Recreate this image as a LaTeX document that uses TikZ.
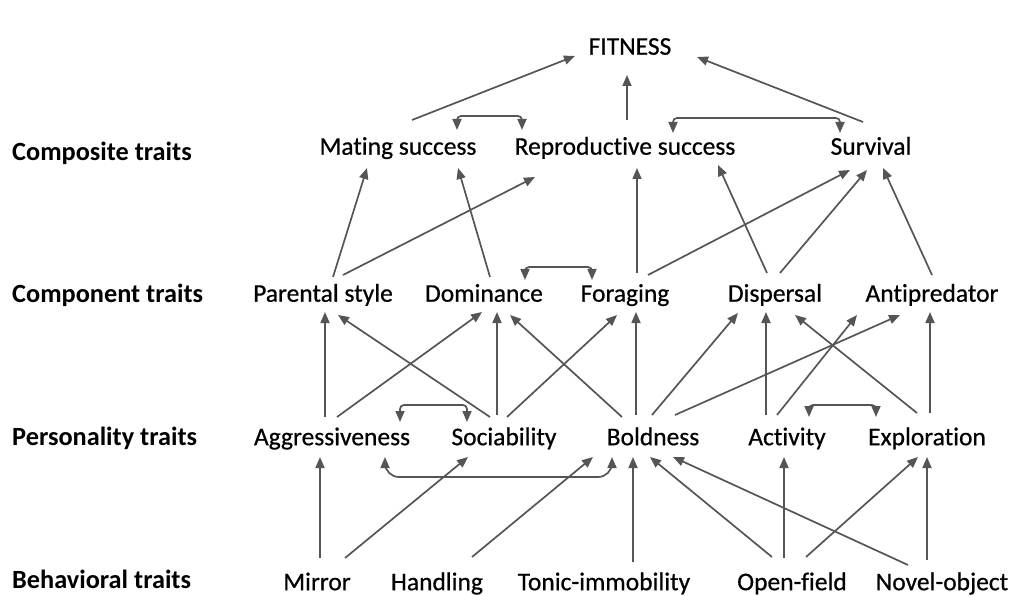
\documentclass[tikz,border=0pt]{standalone}
\usepackage{fontspec}
\setmainfont{Carlito}[Ligatures=NoCommon]
\newfontfamily\nodefont{Carlito}[Ligatures=NoCommon,FakeBold=0.6]
\usetikzlibrary{arrows.meta,calc}
\definecolor{lc}{RGB}{85,85,85}
\begin{document}
\begin{tikzpicture}[x=1pt,y=-1pt,
  lab/.style={font=\nodefont\fontsize{25.5}{30}\selectfont, inner sep=0pt, text height=16.4pt, text depth=0pt},
  side/.style={inner sep=0pt, text height=16.8pt, text depth=0pt, font=\fontsize{26.3}{30}\selectfont\bfseries, anchor=west},
  arr/.style={draw=lc, line width=1.7pt, -{Triangle[length=11pt,width=9pt]}},
  dbl/.style={draw=lc, line width=1.7pt, {Triangle[length=11pt,width=9pt]}-{Triangle[length=11pt,width=9pt]}, rounded corners=4pt}]
\useasboundingbox (0,0) rectangle (1015,596);
% side labels
\node[side] (lcomp) at (12,152.5) {Composite traits};
\node[side] (lcompo) at (12,294) {Component traits};
\node[side] (lpers) at (12,437) {Personality traits};
\node[side] (lbeh) at (12,580.5) {Behavioral traits};
% nodes
\node[lab] (fit) at (630,46.5) {FITNESS};
\node[lab] (ms) at (398,146.5) {Mating success};
\node[lab] (rs) at (625,146.5) {Reproductive success};
\node[lab] (sv) at (871,146.5) {Survival};
\node[lab] (ps) at (323,293.5) {Parental style};
\node[lab] (dom) at (484,293.5) {Dominance};
\node[lab] (fo) at (625,293.5) {Foraging};
\node[lab] (dis) at (775,293.5) {Dispersal};
\node[lab] (ap) at (932,293.5) {Antipredator};
\node[lab] (ag) at (332,437) {Aggressiveness};
\node[lab] (so) at (504,437) {Sociability};
\node[lab] (bo) at (653,437) {Boldness};
\node[lab] (ac) at (787,437) {Activity};
\node[lab] (ex) at (927,437) {Exploration};
\node[lab] (mi) at (317,582) {Mirror};
\node[lab] (ha) at (437,582) {Handling};
\node[lab] (ti) at (604,582) {Tonic-immobility};
\node[lab] (of) at (792,582) {Open-field};
\node[lab] (no) at (942,582) {Novel-object};
% composite -> fitness
\draw[arr] ($(ms)+(14,-26.5)$) -- ($(fit)+(-55,9.5)$);
\draw[arr] ($(rs)+(2,-26.5)$) -- ($(fit)+(-3,28.5)$);
\draw[arr] ($(sv)+(-8,-24.5)$) -- ($(fit)+(67,10.5)$);
\draw[dbl] ($(ms)+(59,-16.5)$) -- ($(ms)+(59,-30.5)$) -| ($(rs)+(-103,-16.5)$);
\draw[dbl] ($(rs)+(48,-13.5)$) -- ($(rs)+(48,-28.5)$) -| ($(sv)+(-31,-13.5)$);
% component -> composite
\draw[arr] ($(ps)+(10,-16.5)$) -- ($(ms)+(-31,21.5)$);
\draw[arr] ($(ps)+(20,-18.5)$) -- ($(rs)+(-90,30.5)$);
\draw[arr] ($(dom)+(6,-16.5)$) -- ($(ms)+(60,21.5)$);
\draw[arr] ($(fo)+(12,-20.5)$) -- ($(rs)+(12,21.5)$);
\draw[arr] ($(fo)+(23,-18.5)$) -- ($(sv)+(-21,23.5)$);
\draw[arr] ($(dis)+(-8,-20.5)$) -- ($(rs)+(93,18.5)$);
\draw[arr] ($(dis)+(5,-20.5)$) -- ($(sv)+(-4,23.5)$);
\draw[arr] ($(ap)+(0,-18.5)$) -- ($(sv)+(12,21.5)$);
\draw[dbl] ($(dom)+(41,-13.5)$) -- ($(dom)+(41,-26.5)$) -| ($(fo)+(-33,-13.5)$);
% personality -> component
\draw[arr] ($(ag)+(-7,-20)$) -- ($(ps)+(2,18.5)$);
\draw[arr] ($(ag)+(5,-20)$) -- ($(dom)+(-2,18.5)$);
\draw[arr] ($(so)+(-14,-20)$) -- ($(ps)+(15,21.5)$);
\draw[arr] ($(so)+(-7,-22)$) -- ($(dom)+(13,18.5)$);
\draw[arr] ($(so)+(3,-20)$) -- ($(fo)+(-8,21.5)$);
\draw[arr] ($(bo)+(-31,-20)$) -- ($(dom)+(26,21.5)$);
\draw[arr] ($(bo)+(-17,-22)$) -- ($(fo)+(11,18.5)$);
\draw[arr] ($(bo)+(-1,-22)$) -- ($(dis)+(-37,19.5)$);
\draw[arr] ($(bo)+(22,-22)$) -- ($(ap)+(-32,21.5)$);
\draw[arr] ($(ac)+(-21,-22)$) -- ($(dis)+(-9,18.5)$);
\draw[arr] ($(ac)+(-10,-22)$) -- ($(ap)+(-75,21.5)$);
\draw[arr] ($(ex)+(-10,-24)$) -- ($(dis)+(20,21.5)$);
\draw[arr] ($(ex)+(3,-24)$) -- ($(ap)+(-2,18.5)$);
\draw[dbl] ($(ac)+(22,-20)$) -- ($(ac)+(22,-32)$) -| ($(ex)+(-51,-20)$);
\draw[dbl] ($(ag)+(68,-15)$) -- ($(ag)+(68,-32)$) -| ($(so)+(-37,-15)$);
% behavioral -> personality
\draw[arr] ($(mi)+(3,-24)$) -- ($(ag)+(-12,20)$);
\draw[arr] ($(mi)+(28,-24)$) -- ($(so)+(-36,20)$);
\draw[arr] ($(ha)+(35,-25)$) -- ($(bo)+(-60,20)$);
\draw[arr] ($(ti)+(29,-20)$) -- ($(bo)+(-20,20)$);
\draw[arr] ($(of)+(-8,-24)$) -- ($(ac)+(-3,20)$);
\draw[arr] ($(of)+(-20,-25)$) -- ($(bo)+(-3,20)$);
\draw[arr] ($(of)+(14,-25)$) -- ($(ex)+(-9,20)$);
\draw[arr] ($(no)+(-34,-17)$) -- ($(bo)+(20,20)$);
\draw[arr] ($(no)+(-15,-22)$) -- ($(ex)+(0,20)$);
\draw[dbl, rounded corners=14pt] ($(ag)+(53,20)$) |- ($(bo)+(-41,40)$) -- ($(bo)+(-41,20)$);
\end{tikzpicture}
\end{document}
